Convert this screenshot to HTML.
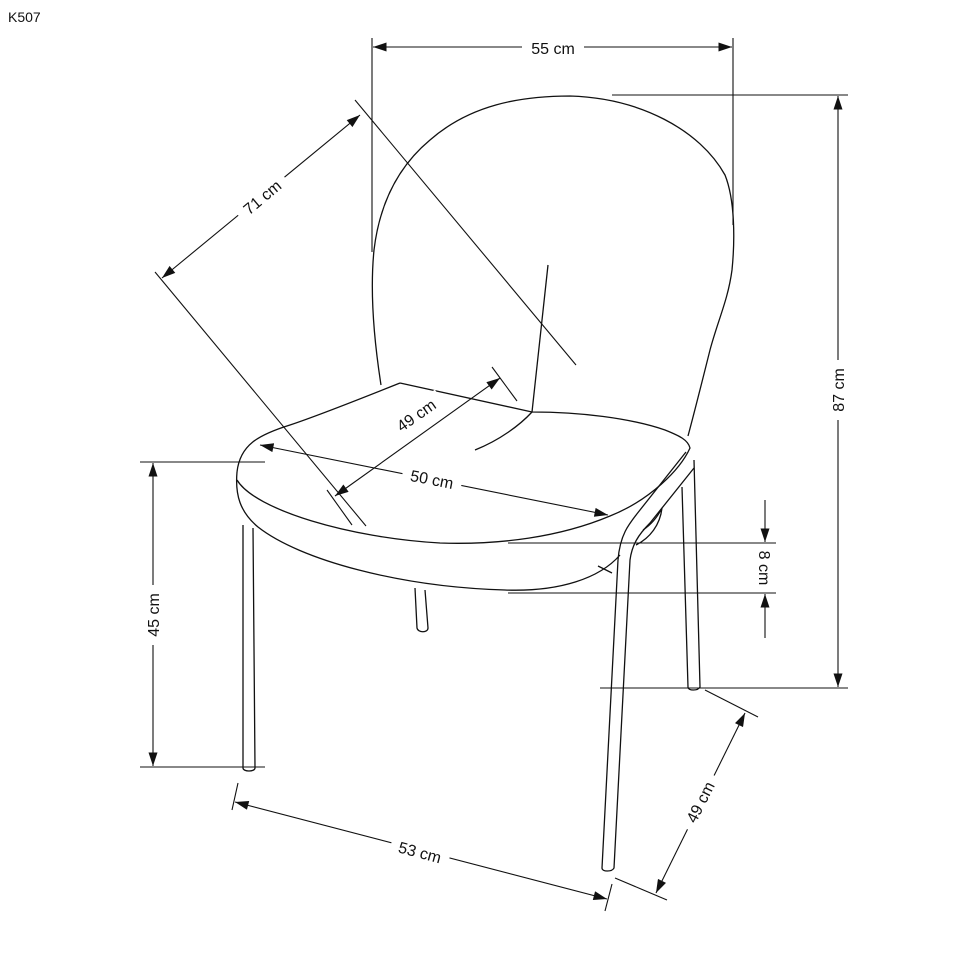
<!DOCTYPE html>
<html><head><style>
html,body{margin:0;padding:0;background:#fff;}
svg{display:block;}
text{font-family:"Liberation Sans",sans-serif;font-size:16px;fill:#111;}
</style></head><body>
<svg width="970" height="970" viewBox="0 0 970 970" xmlns="http://www.w3.org/2000/svg">
<defs>
<marker id="a" viewBox="0 0 12 8" refX="12" refY="4" markerWidth="14" markerHeight="9" orient="auto-start-reverse" markerUnits="userSpaceOnUse">
<path d="M0,0 L12,4 L0,8 z" fill="#111"/></marker>
</defs>
<text x="8" y="22" style="font-size:14px">K507</text>
<g stroke="#111" stroke-width="1.3" fill="none">
<!-- chair backrest -->
<path d="M381,385 C374,340 370,290 374,250 C380,200 400,165 430,140 C470,105 520,96 570,96 C640,98 700,130 725,175 C735,200 735,240 732,270 C728,300 718,320 710,350 C700,390 695,410 688,436"/>
<path d="M548,265 L532,412"/>
<path d="M475,450 C500,440 520,425 532,412"/>
<!-- seat top -->
<path d="M400,383 C370,395 320,415 290,425 C258,435 240,445 237,472"/>
<path d="M400,383 L532,412 C580,412 630,418 665,430 C680,436 688,440 690,448 C680,470 650,500 610,516 C560,537 500,545 440,543 C350,538 255,510 237,480"/>
<path d="M237,472 C235,495 240,512 258,527 C300,560 400,587 505,590 C560,592 600,578 620,555"/>
<!-- legs -->
<path d="M243,525 L243,768 C243,772 255,772 255,768 L253,528"/>
<path d="M415,588 L417,628 C418,633 428,633 428,628 L425,590"/>
<path d="M686,452 L640,510 C628,525 620,535 618,560 L602,868 C602,872 612,872 614,868 L630,560 C632,545 638,535 650,523 L694,468"/>
<path d="M682,487 L688,687 C688,691 698,691 700,687 L694,460"/>
<path d="M643,530 C655,522 660,512 662,508 C660,525 650,538 636,545"/>
<path d="M598,566 L612,573"/>
</g>
<g stroke="#111" stroke-width="1.1" fill="none">
<line x1="372" y1="38" x2="372" y2="252"/><line x1="733" y1="38" x2="733" y2="225"/>
<line x1="373" y1="47" x2="732" y2="47" marker-start="url(#a)" marker-end="url(#a)"/>
<line x1="612" y1="95" x2="848" y2="95"/><line x1="600" y1="688" x2="848" y2="688"/>
<line x1="838" y1="96" x2="838" y2="687" marker-start="url(#a)" marker-end="url(#a)"/>
<line x1="355" y1="100" x2="576" y2="365"/><line x1="155" y1="272" x2="366" y2="526"/>
<line x1="162" y1="278" x2="360" y2="115" marker-start="url(#a)" marker-end="url(#a)"/>
<line x1="492" y1="367" x2="517" y2="401"/><line x1="327" y1="490" x2="352" y2="525"/>
<line x1="335" y1="496" x2="500" y2="378" marker-start="url(#a)" marker-end="url(#a)"/>
<line x1="260" y1="445" x2="608" y2="515" marker-start="url(#a)" marker-end="url(#a)"/>
<line x1="140" y1="462" x2="265" y2="462"/><line x1="140" y1="767" x2="265" y2="767"/>
<line x1="153" y1="463" x2="153" y2="766" marker-start="url(#a)" marker-end="url(#a)"/>
<line x1="508" y1="543" x2="776" y2="543"/><line x1="508" y1="593" x2="776" y2="593"/>
<line x1="765" y1="500" x2="765" y2="542" marker-end="url(#a)"/>
<line x1="765" y1="638" x2="765" y2="594" marker-end="url(#a)"/>
<line x1="238" y1="783" x2="232" y2="810"/><line x1="612" y1="884" x2="605" y2="911"/>
<line x1="235" y1="802" x2="607" y2="899" marker-start="url(#a)" marker-end="url(#a)"/>
<line x1="615" y1="878" x2="667" y2="900"/><line x1="705" y1="690" x2="758" y2="717"/>
<line x1="656" y1="893" x2="745" y2="713" marker-start="url(#a)" marker-end="url(#a)"/>
</g>
<g>
<rect x="522" y="38" width="62" height="20" fill="#fff"/><text x="553" y="54" text-anchor="middle">55 cm</text>
<g transform="translate(838,390) rotate(-90)"><rect x="-30" y="-10" width="60" height="20" fill="#fff"/><text x="0" y="6" text-anchor="middle">87 cm</text></g>
<g transform="translate(262,197) rotate(-40)"><rect x="-30" y="-10" width="60" height="20" fill="#fff"/><text x="0" y="6" text-anchor="middle">71 cm</text></g>
<g transform="translate(416,415) rotate(-35)"><rect x="-30" y="-10" width="60" height="20" fill="#fff"/><text x="0" y="6" text-anchor="middle">49 cm</text></g>
<g transform="translate(432,479) rotate(11)"><rect x="-30" y="-10" width="60" height="20" fill="#fff"/><text x="0" y="6" text-anchor="middle">50 cm</text></g>
<g transform="translate(153,615) rotate(-90)"><rect x="-30" y="-10" width="60" height="20" fill="#fff"/><text x="0" y="6" text-anchor="middle">45 cm</text></g>
<g transform="translate(765,568) rotate(90)"><text x="0" y="6" text-anchor="middle">8 cm</text></g>
<g transform="translate(420,852) rotate(15)"><rect x="-30" y="-10" width="60" height="20" fill="#fff"/><text x="0" y="6" text-anchor="middle">53 cm</text></g>
<g transform="translate(700,802) rotate(-63)"><rect x="-30" y="-10" width="60" height="20" fill="#fff"/><text x="0" y="6" text-anchor="middle">49 cm</text></g>
</g>
</svg>
</body></html>
